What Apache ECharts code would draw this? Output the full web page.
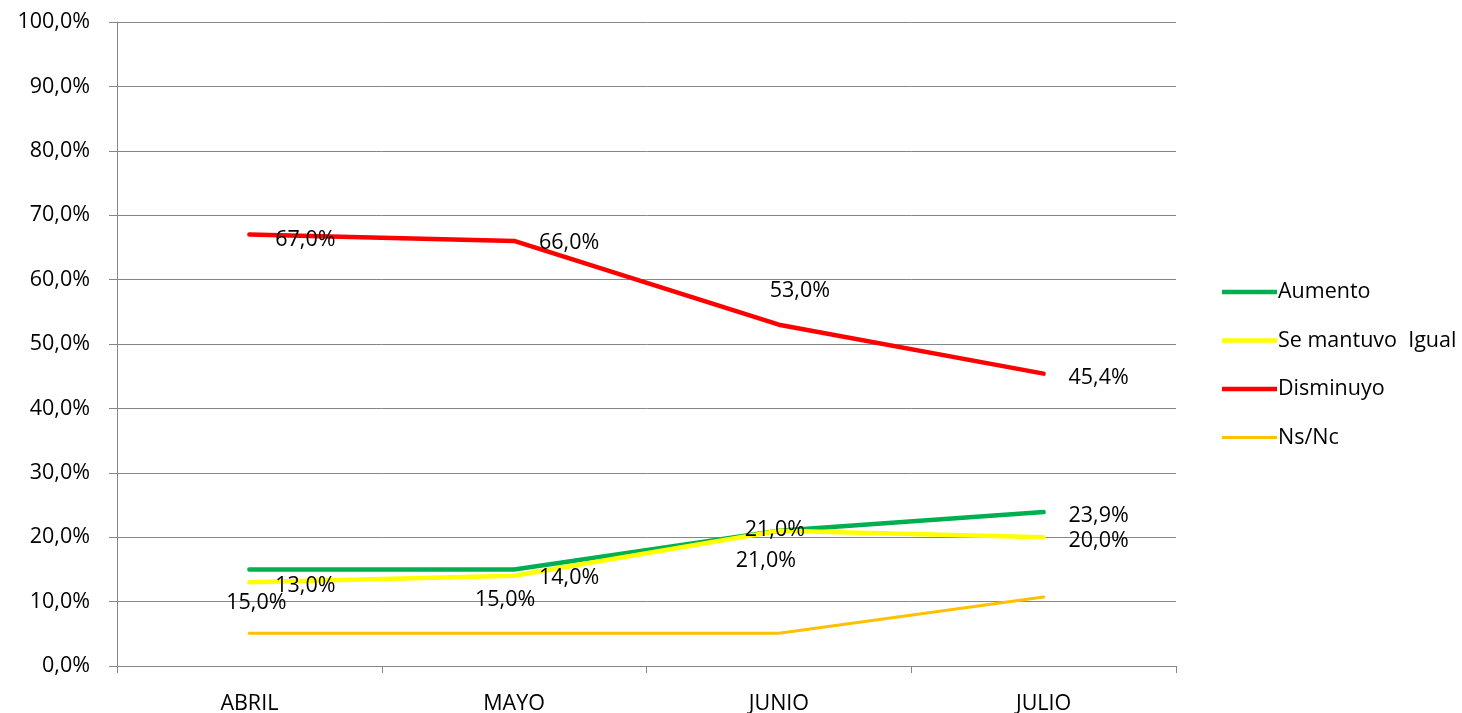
<!DOCTYPE html>
<html>
<head>
<meta charset="utf-8">
<script src="https://cdn.jsdelivr.net/npm/echarts@6/dist/echarts.min.js"></script>
<style>html,body{margin:0;padding:0;background:#fff}#c{width:1462px;height:713px}</style>
</head>
<body>
<div id="c"></div>
<script>
const categories = ['ABRIL', 'MAYO', 'JUNIO', 'JULIO'];
const aumento = [15.0, 15.0, 21.0, 23.9];
const seMantuvo = [13.0, 14.0, 21.0, 20.0];
const disminuyo = [67.0, 66.0, 53.0, 45.4];
const nsnc = [5.1, 5.1, 5.1, 10.7];
const seriesNames = ['Aumento', 'Se mantuvo  Igual', 'Disminuyo', 'Ns/Nc'];
const yTicks = [0, 10, 20, 30, 40, 50, 60, 70, 80, 90, 100];

const FONT = '"Open Sans", "Liberation Sans", sans-serif';
const FS = 21.5;
const fmt = v => v.toFixed(1).replace('.', ',') + '%';

// label offsets (relative to point centre)
const offAum = [[7, 33], [-9, 30], [-13, 30], [55, 4]];
const offSem = [[56, 4], [55, 2], [-4, -1], [55, 4]];
const offDis = [[56, 5], [55, 2], [21, -34], [55, 4]];

function mk(vals, offs) {
  return vals.map((v, i) => ({
    value: v,
    label: offs ? { show: true, position: 'inside', offset: offs[i] } : { show: false }
  }));
}

function lineSeries(name, vals, offs, color, width, z) {
  return {
    name: name,
    type: 'line',
    data: mk(vals, offs),
    symbol: 'circle',
    symbolSize: 0.01,
    showSymbol: true,
    z: z,
    itemStyle: { color: color },
    lineStyle: { color: color, width: width, cap: 'round', join: 'round' },
    label: {
      show: !!offs,
      formatter: p => fmt(p.value),
      color: '#000',
      fontFamily: FONT,
      fontSize: FS
    },
    emphasis: { disabled: true },
    animation: false
  };
}

const chart = echarts.init(document.getElementById('c'));
chart.setOption({
  animation: false,
  grid: { left: 117, right: 286, top: 22, bottom: 47, containLabel: false, outerBoundsMode: 'none' },
  legend: {
    orient: 'vertical',
    left: 1217,
    top: 276,
    itemGap: 26.5,
    itemWidth: 55,
    itemHeight: 26,
    textStyle: { fontFamily: FONT, fontSize: FS, color: '#000', padding: [0, 0, 0, -4] },
    data: seriesNames.map((n, i) => ({
      name: n,
      icon: 'path://M0,0 L55,0 L55,' + (i === 3 ? 3 : 4.5) + ' L0,' + (i === 3 ? 3 : 4.5) + ' Z'
    })),
    selectedMode: false
  },
  xAxis: {
    type: 'category',
    data: categories,
    boundaryGap: true,
    axisLine: { lineStyle: { color: '#868686', width: 1 } },
    axisTick: { show: true, length: 7, lineStyle: { color: '#868686' } },
    axisLabel: { fontFamily: FONT, fontSize: FS, color: '#000', margin: 27 },
    splitLine: { show: false }
  },
  yAxis: {
    type: 'value',
    min: 0,
    max: 100,
    interval: 10,
    axisLine: { show: true, lineStyle: { color: '#868686', width: 1 } },
    axisTick: { show: true, length: 8, lineStyle: { color: '#868686' } },
    axisLabel: {
      fontFamily: FONT, fontSize: FS, color: '#000', margin: 27,
      formatter: v => yTicks.includes(v) ? fmt(v) : ''
    },
    splitLine: { show: true, lineStyle: { color: '#868686', width: 1 } }
  },
  series: [
    lineSeries(seriesNames[0], aumento, offAum, '#00B050', 4.5, 3),
    lineSeries(seriesNames[1], seMantuvo, offSem, '#FFFF00', 4.5, 4),
    lineSeries(seriesNames[2], disminuyo, offDis, '#FF0000', 4.5, 5),
    lineSeries(seriesNames[3], nsnc, null, '#FFC000', 3, 2)
  ]
});
</script>
</body>
</html>
